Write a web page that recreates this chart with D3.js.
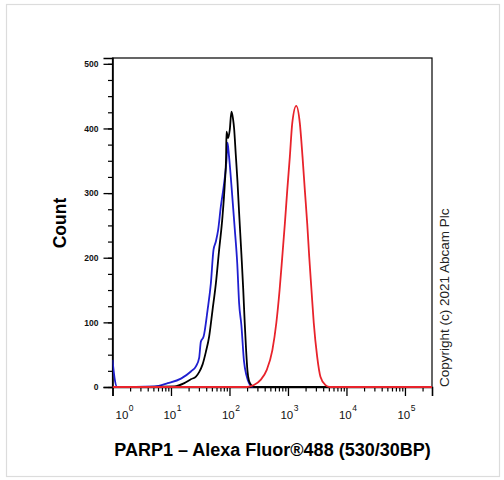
<!DOCTYPE html>
<html>
<head>
<meta charset="utf-8">
<script src="https://cdn.jsdelivr.net/npm/d3@7"></script>
<style>
  html, body { margin: 0; padding: 0; background: #fff; }
  svg { display: block; }
  text { font-family: Arial, "Liberation Sans", sans-serif; }
</style>
</head>
<body>
<svg id="chart" width="504" height="480"></svg>
<script>
// ---- data ----
const blueX = [1, 1.08, 1.2, 5.2, 8.8, 14.8, 21.9, 26.7, 30.3, 32.4, 36.1, 42.2, 48.0, 53.3, 58.5, 64.0, 71.1, 80.9, 88.9, 92.5, 98, 108, 123, 136, 146, 160, 177, 195, 216, 250, 290000];
const blueCount = [42, 15, 0, 1, 6, 13, 24, 32, 45, 70, 78, 119, 160, 212, 225, 243, 279, 315, 351, 378, 358, 312, 245, 190, 130, 95, 40, 18, 6, 0, 0];

const blackX = [1, 11.4, 16.9, 21.9, 26.7, 30.3, 34.7, 39.4, 44.9, 51.3, 58.5, 66.5, 76.0, 83.2, 87.5, 88.9, 94.6, 101.2, 108, 115, 120, 128, 137, 146, 160, 172, 182, 193, 203, 215, 235, 262, 290000];
const blackCount = [0, 1, 6, 12, 16, 23, 35, 54, 78, 119, 160, 212, 264, 315, 356, 395, 385, 398, 426, 415, 400, 360, 318, 270, 205, 150, 100, 55, 25, 10, 3, 0, 0];

const redX = [1, 200, 262, 341, 432, 541, 632, 719, 800, 885, 973, 1076, 1183, 1384, 1596, 1774, 1941, 2133, 2307, 2523, 2761, 3155, 3589, 4375, 5200, 290000];
const redCount = [0, 0, 3, 11, 26, 57, 99, 150, 202, 253, 305, 356, 408, 435, 408, 356, 305, 253, 202, 150, 99, 47, 16, 3, 0, 0];

const seriesNames = ["blue", "black", "red"];
const seriesColors = ["#1f1fd0", "#000000", "#e8232b"];

const yMajorTicks = [0, 100, 200, 300, 400, 500];
const xDecadeExponents = [0, 1, 2, 3, 4, 5];
const xTitle = "PARP1 \u2013 Alexa Fluor\u00AE488 (530/30BP)";
const yTitle = "Count";
const copyright = "Copyright (c) 2021 Abcam Plc";

// ---- layout ----
const svg = d3.select("#chart");
const L = 112.5, R = 432, T = 58, B = 387;

svg.append("rect").attr("x", 6.5).attr("y", 4.5).attr("width", 493).attr("height", 472)
  .attr("fill", "none").attr("stroke", "#dcdcdc").attr("stroke-width", 1.2);

const x = d3.scaleLog().domain([1, 290000]).range([L, R]);
const y = d3.scaleLinear().domain([0, 509]).range([B, T]);

// frame
svg.append("rect").attr("x", L).attr("y", T).attr("width", R - L).attr("height", B - T)
  .attr("fill", "none").attr("stroke", "#000").attr("stroke-width", 1.2);

// y axis
const yMinor = d3.range(0, 501, 25);
svg.append("g").attr("transform", `translate(${L},0)`)
  .call(d3.axisLeft(y).tickValues(yMinor).tickSize(4.5).tickFormat(""))
  .call(g => g.select(".domain").remove())
  .call(g => g.selectAll("line").attr("stroke-width", 1.2));
const yAx = svg.append("g").attr("transform", `translate(${L},0)`)
  .call(d3.axisLeft(y).tickValues(yMajorTicks).tickSize(9).tickPadding(5).tickFormat(d3.format("d")))
  .call(g => g.select(".domain").attr("stroke-width", 1.6));
yAx.selectAll("line").attr("stroke-width", 1.3);
yAx.selectAll("text").attr("font-size", 8.5).attr("font-weight", "bold")
  .attr("font-family", "Arial, 'Liberation Sans', sans-serif").attr("fill", "#111");

// x axis
const xMinor = [];
for (let e = 0; e <= 5; e++) for (let m = 2; m <= 9; m++) {
  const v = m * Math.pow(10, e);
  if (v <= 290000) xMinor.push(v);
}
svg.append("g").attr("transform", `translate(0,${B})`)
  .call(d3.axisBottom(x).tickValues(xMinor).tickSize(4.5).tickFormat(""))
  .call(g => g.select(".domain").remove())
  .call(g => g.selectAll("line").attr("stroke-width", 1.2));
svg.append("g").attr("transform", `translate(0,${B})`)
  .call(d3.axisBottom(x).tickValues(xDecadeExponents.map(e => Math.pow(10, e))).tickSize(9).tickFormat(""))
  .call(g => g.select(".domain").attr("stroke-width", 1.6))
  .call(g => g.selectAll("line").attr("stroke-width", 1.3));

xDecadeExponents.forEach((e, i) => {
  const cx = x(Math.pow(10, e)) + (i === 0 ? 12 : 1.5);
  const t = svg.append("text").attr("x", cx).attr("y", 418.5)
    .attr("font-size", 11.5).attr("fill", "#111").attr("text-anchor", "middle");
  t.append("tspan").text("10");
  t.append("tspan").attr("dy", -7.5).attr("dx", 0.5).attr("font-size", 8.5).text(e);
});

// curves
const line = d3.line().x(d => x(d[0])).y(d => y(d[1])).curve(d3.curveMonotoneX);
const series = [
  d3.zip(blueX, blueCount),
  d3.zip(blackX, blackCount),
  d3.zip(redX, redCount)
];
svg.append("clipPath").attr("id", "clip").append("rect")
  .attr("x", L).attr("y", T).attr("width", R - L).attr("height", B - T + 2);
series.forEach((s, i) => {
  svg.append("path").datum(s).attr("d", line)
    .attr("fill", "none").attr("stroke", seriesColors[i]).attr("stroke-width", 1.8)
    .attr("stroke-linejoin", "round").attr("clip-path", "url(#clip)")
    .attr("class", "series-" + seriesNames[i]);
});

// titles
svg.append("text").attr("transform", `translate(66,223) rotate(-90)`)
  .attr("text-anchor", "middle").attr("font-size", 17.5).attr("font-weight", "bold")
  .attr("fill", "#000").text(yTitle);
svg.append("text").attr("x", 272.5).attr("y", 456)
  .attr("text-anchor", "middle").attr("font-size", 18).attr("font-weight", "bold")
  .attr("fill", "#000").text(xTitle);
svg.append("text").attr("transform", `translate(449,387) rotate(-90)`)
  .attr("text-anchor", "start").attr("font-size", 13.5)
  .attr("fill", "#222").text(copyright);
</script>
</body>
</html>
